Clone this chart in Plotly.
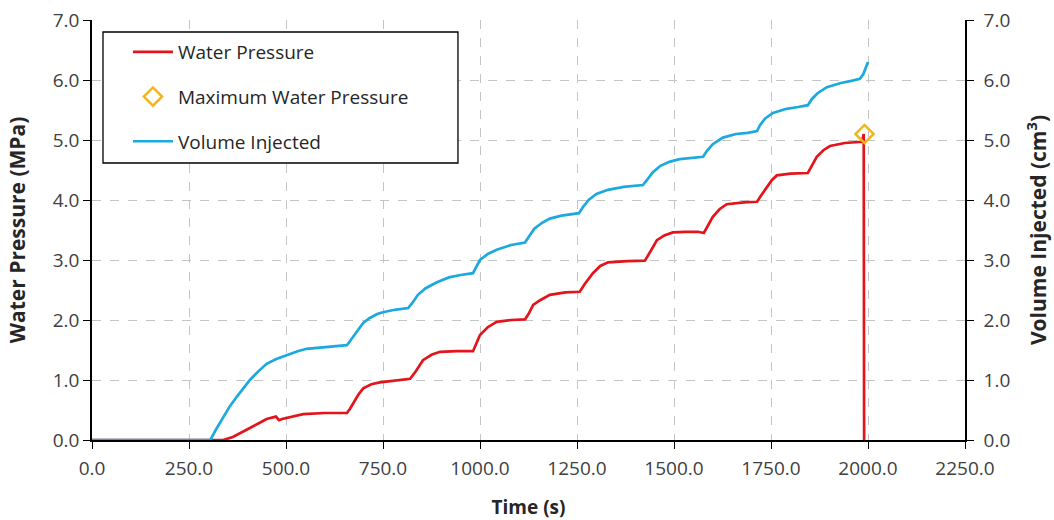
import plotly.graph_objects as go

# ---- data ----
vol_t = [0, 305, 320, 338, 355, 373, 390, 407, 428, 450, 475, 502, 530, 553, 600, 640, 657,
         665, 673, 686, 699, 715, 735, 750, 780, 815, 825, 840, 860, 889, 920, 950, 982,
         990, 1000, 1020, 1043, 1080, 1116, 1125, 1140, 1160, 1180, 1210, 1255, 1265, 1280,
         1300, 1330, 1370, 1420, 1430, 1445, 1465, 1490, 1515, 1550, 1575, 1585, 1600, 1626,
         1660, 1690, 1714, 1722, 1735, 1755, 1790, 1820, 1845, 1855, 1870, 1894, 1930, 1960,
         1979, 1988, 1995, 2000]
vol_v = [0, 0, 0.18, 0.38, 0.56, 0.72, 0.87, 1.0, 1.14, 1.27, 1.35, 1.42, 1.48, 1.52, 1.55, 1.57, 1.58,
         1.65, 1.72, 1.85, 1.95, 2.03, 2.1, 2.13, 2.17, 2.2, 2.28, 2.42, 2.53, 2.63, 2.71, 2.75, 2.78,
         2.88, 3.0, 3.1, 3.17, 3.25, 3.29, 3.38, 3.52, 3.62, 3.69, 3.74, 3.78, 3.88, 4.0,
         4.1, 4.17, 4.22, 4.25, 4.33, 4.46, 4.57, 4.64, 4.68, 4.7, 4.72, 4.82, 4.93, 5.04,
         5.1, 5.12, 5.15, 5.25, 5.36, 5.45, 5.52, 5.55, 5.58, 5.68, 5.78, 5.88, 5.95, 5.99,
         6.02, 6.1, 6.2, 6.3]

wp_t = [0, 338, 363, 385, 407, 430, 450, 474, 478, 482, 490, 502, 520, 544, 600, 640, 657,
        665, 673, 686, 699, 720, 742, 780, 820, 835, 853, 875, 897, 940, 982, 990, 1000, 1020,
        1043, 1080, 1116, 1125, 1137, 1155, 1180, 1220, 1257, 1270, 1291, 1310, 1330, 1380,
        1425, 1440, 1456, 1475, 1497, 1530, 1562, 1577, 1588, 1600, 1618, 1636, 1680, 1714,
        1725, 1739, 1752, 1765, 1800, 1845, 1855, 1868, 1885, 1902, 1940, 1984, 1989, 1990]
wp_v = [0, 0, 0.05, 0.12, 0.2, 0.28, 0.35, 0.39, 0.36, 0.33, 0.35, 0.37, 0.4, 0.43, 0.45, 0.45, 0.45,
        0.52, 0.61, 0.75, 0.86, 0.93, 0.96, 0.99, 1.02, 1.15, 1.33, 1.42, 1.47, 1.48, 1.48, 1.6, 1.75, 1.88,
        1.97, 2.0, 2.01, 2.1, 2.25, 2.33, 2.42, 2.46, 2.47, 2.6, 2.78, 2.9, 2.96, 2.98,
        2.99, 3.15, 3.33, 3.41, 3.46, 3.47, 3.47, 3.45, 3.58, 3.72, 3.85, 3.93, 3.96, 3.97,
        4.08, 4.22, 4.33, 4.41, 4.44, 4.45, 4.57, 4.72, 4.83, 4.9, 4.95, 4.97, 5.1, 0]

max_t = [1991]
max_v = [5.1]

ticks_x = [0, 250, 500, 750, 1000, 1250, 1500, 1750, 2000, 2250]
ticks_y = [0, 1, 2, 3, 4, 5, 6, 7]

RED = "#E3141B"
BLUE = "#1CA9DF"
GOLD = "#F2B61C"
FONT = "Open Sans"
TXT = "#262626"

fig = go.Figure()
fig.add_trace(go.Scatter(x=wp_t, y=wp_v, mode="lines", name="Water Pressure",
                         line=dict(color=RED, width=2.7), legendgroup="a"))
fig.add_trace(go.Scatter(x=max_t, y=max_v, mode="markers", name="Maximum Water Pressure",
                         marker=dict(symbol="diamond-open", size=14, color=GOLD,
                                     line=dict(width=2.5, color=GOLD)), legendgroup="b"))
fig.add_trace(go.Scatter(x=vol_t, y=vol_v, mode="lines", name="Volume Injected",
                         line=dict(color=BLUE, width=2.7), yaxis="y2", legendgroup="c"))

grid = dict(showgrid=True, gridcolor="#C4C4C4", griddash="dash", gridwidth=1)
tickfont = dict(family=FONT, size=19, color="#404040")
titlefont = dict(family=FONT, size=19, color=TXT)
ytitlefont = dict(family=FONT, size=21, color=TXT)

# legend frame
fig.add_shape(type="rect", xref="paper", yref="paper",
              x0=0.0126, x1=0.4192, y0=0.6595, y1=0.9714,
              line=dict(color="black", width=1.3), fillcolor="white", layer="above")

fig.update_layout(
    width=1054, height=520,
    margin=dict(l=92, r=89, t=20, b=80, autoexpand=False),
    paper_bgcolor="white", plot_bgcolor="white",
    font=dict(family=FONT, size=19, color=TXT),
    xaxis=dict(range=[0, 2250], tickvals=ticks_x, tickformat=".1f", ticks="outside",
               ticklen=7, tickcolor="black", showline=True, linecolor="black", linewidth=1.5,
               zeroline=False, tickfont=tickfont, ticklabelstandoff=3, automargin=False,
               title=dict(text="<b>Time (s)</b>", font=titlefont, standoff=24),
               **grid),
    yaxis=dict(range=[0, 7], tickvals=ticks_y, tickformat=".1f", ticks="outside",
               ticklen=7, tickcolor="black", showline=True, linecolor="black", linewidth=1.5,
               zeroline=False, tickfont=tickfont, automargin=False,
               title=dict(text="<b>Water Pressure (MPa)</b>", font=ytitlefont, standoff=21),
               **grid),
    yaxis2=dict(range=[0, 7], tickvals=ticks_y, tickformat=".1f", ticks="outside",
                ticklen=7, tickcolor="black", showline=True, linecolor="black", linewidth=1.5,
                overlaying="y", side="right", showgrid=False, zeroline=False, tickfont=tickfont,
                ticklabelstandoff=6, automargin=False,
                title=dict(text="<b>Volume Injected (cm<sup>3</sup>)</b>", font=ytitlefont,
                           standoff=22)),
    legend=dict(x=0.0412, y=0.969, xanchor="left", yanchor="top",
                bgcolor="rgba(0,0,0,0)", borderwidth=0,
                font=dict(family=FONT, size=19, color=TXT),
                tracegroupgap=17, itemwidth=40),
    showlegend=True,
)

fig.write_html("out.html")
